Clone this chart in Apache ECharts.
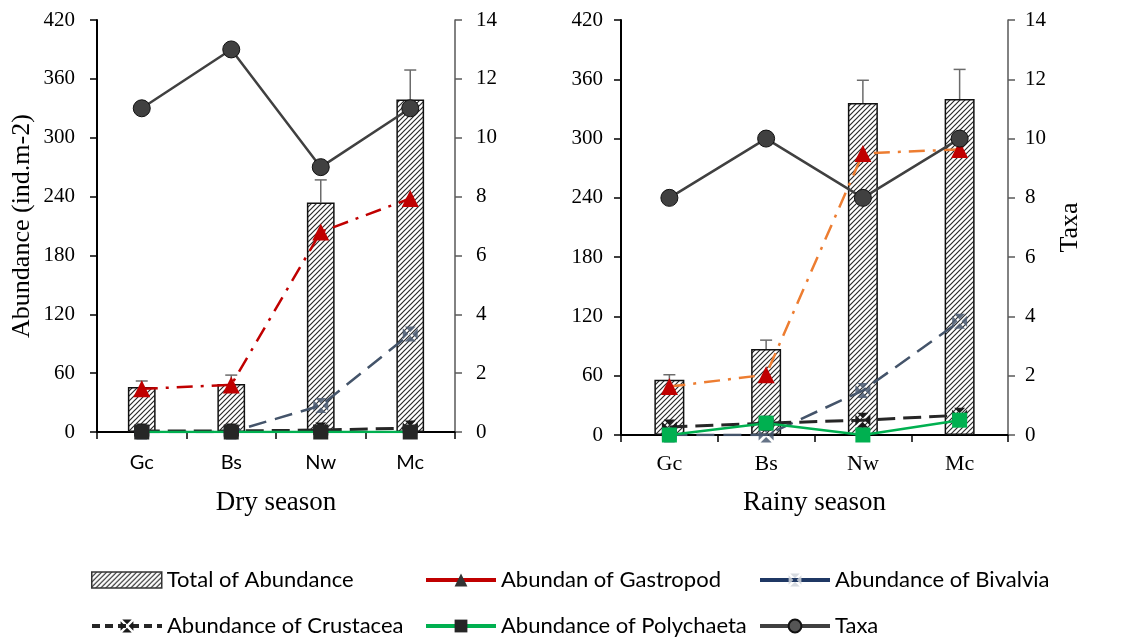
<!DOCTYPE html>
<html>
<head>
<meta charset="utf-8">
<script src="https://cdn.jsdelivr.net/npm/echarts@6/dist/echarts.min.js"></script>
<style>
html,body{margin:0;padding:0;background:#fff;}
#main{width:1137px;height:641px;}
</style>
</head>
<body>
<div id="main"></div>
<script>
var sites = ['Gc', 'Bs', 'Nw', 'Mc'];
var abTicks = [0, 420, 60];
var taxaTicks = [0, 14, 2];

// dry season
var dryTotal = [46, 49, 234, 339];
var dryTotalErr = [52, 58, 257, 369];
var dryGastro = [44, 48, 204, 238];
var dryBival = [0, 0, 27, 100];
var dryCrust = [1, 1, 2, 4];
var dryPoly = [0, 0, 0, 0];
var dryTaxa = [11, 13, 9, 11];

// rainy season
var rainTotal = [56, 87, 336, 340];
var rainTotalErr = [61, 96, 359, 370];
var rainGastro = [49, 61, 285, 289];
var rainBival = [0, 0, 45, 115];
var rainCrust = [8, 12, 15, 20];
var rainPoly = [0, 12, 0, 15];
var rainTaxa = [8, 10, 8, 10];

var serif = '"Liberation Serif", "Times New Roman", serif';
var sans = 'Lato, "Liberation Sans", sans-serif';

// hatch fill
var hc = document.createElement('canvas');
hc.width = 5; hc.height = 5;
var hx = hc.getContext('2d');
hx.fillStyle = '#fff';
hx.fillRect(0, 0, 5, 5);
hx.strokeStyle = '#2a2a2a';
hx.lineWidth = 1.2;
hx.beginPath();
hx.moveTo(-1, 6); hx.lineTo(6, -1);
hx.moveTo(-1, 1); hx.lineTo(1, -1);
hx.moveTo(4, 6); hx.lineTo(6, 4);
hx.stroke();
var hatch = {image: hc, repeat: 'repeat'};

var xSquare = 'path://M1.3,0L8.7,0L5,3.7ZM10,1.3L10,8.7L6.3,5ZM1.3,10L8.7,10L5,6.3ZM0,1.3L0,8.7L3.7,5Z';

function errBars(xi, yi, tops, vals) {
    return {
        type: 'custom',
        xAxisIndex: xi, yAxisIndex: yi,
        silent: true,
        z: 1,
        data: vals.map(function (v, i) { return [i, v, tops[i]]; }),
        renderItem: function (params, api) {
            var p0 = api.coord([api.value(0), api.value(1)]);
            var p1 = api.coord([api.value(0), api.value(2)]);
            var st = {stroke: '#6b6b6b', lineWidth: 1.5};
            return {type: 'group', children: [
                {type: 'line', shape: {x1: p0[0], y1: p0[1], x2: p1[0], y2: p1[1]}, style: st},
                {type: 'line', shape: {x1: p1[0] - 6, y1: p1[1], x2: p1[0] + 6, y2: p1[1]}, style: st}
            ]};
        }
    };
}

function yAxisL(grid, name, margin) {
    return {
        type: 'value', gridIndex: grid, position: 'left',
        min: abTicks[0], max: abTicks[1], interval: abTicks[2],
        name: name, nameLocation: 'middle', nameGap: 62, nameRotate: 90,
        nameTextStyle: {fontFamily: serif, fontSize: 26, color: '#000'},
        axisLine: {show: true, lineStyle: {color: '#000', width: 2}},
        axisTick: {show: true, length: 7, lineStyle: {color: '#000', width: 1.5}},
        axisLabel: {fontFamily: serif, fontSize: 21, color: '#000', margin: margin},
        splitLine: {show: false}
    };
}
function yAxisR(grid, name, margin) {
    return {
        type: 'value', gridIndex: grid, position: 'right',
        min: taxaTicks[0], max: taxaTicks[1], interval: taxaTicks[2],
        name: name, nameLocation: 'middle', nameGap: 49, nameRotate: 90,
        nameTextStyle: {fontFamily: serif, fontSize: 26, color: '#000'},
        axisLine: {show: true, lineStyle: {color: '#595959', width: 1.5}},
        axisTick: {show: true, length: 7, lineStyle: {color: '#595959', width: 1.5}},
        axisLabel: {fontFamily: serif, fontSize: 21, color: '#000', margin: margin},
        splitLine: {show: false}
    };
}
function xAxis(grid, name, font, size, margin, gap) {
    return {
        type: 'category', gridIndex: grid, data: sites,
        name: name, nameLocation: 'middle', nameGap: gap,
        nameTextStyle: {fontFamily: serif, fontSize: 27, color: '#000'},
        axisLine: {lineStyle: {color: '#000', width: 2}},
        axisTick: {show: true, length: 7, lineStyle: {color: '#000', width: 1.5}},
        axisLabel: {fontFamily: font, fontSize: size, color: '#000', margin: margin}
    };
}

function seasonSeries(xi, yl, yr, total, err, gastro, bival, crust, poly, taxa, gastroLine, polyMark) {
    return [
        {name: 'Total of Abundance', type: 'bar', xAxisIndex: xi, yAxisIndex: yl, data: total,
         barWidth: '31%', itemStyle: {color: hatch, borderColor: '#111', borderWidth: 1.5}},
        errBars(xi, yl, err, total),
        {name: 'Abundan of Gastropod', type: 'line', xAxisIndex: xi, yAxisIndex: yl, data: gastro,
         symbol: 'triangle', symbolSize: 17,
         itemStyle: {color: '#C00000'},
         lineStyle: {color: gastroLine, width: 2.5, type: [16, 8, 3, 8]}},
        {name: 'Abundance of Bivalvia', type: 'line', xAxisIndex: xi, yAxisIndex: yl, data: bival,
         symbol: xSquare, symbolSize: 15,
         itemStyle: {color: '#4a5a72', opacity: 0.85},
         lineStyle: {color: '#44546A', width: 2.5, type: [18, 9], opacity: 1}},
        {name: 'Abundance of Crustacea', type: 'line', xAxisIndex: xi, yAxisIndex: yl, data: crust,
         symbol: xSquare, symbolSize: 15,
         itemStyle: {color: '#1a1a1a'},
         lineStyle: {color: '#262626', width: 3, type: [18, 8]}},
        {name: 'Abundance of Polychaeta', type: 'line', xAxisIndex: xi, yAxisIndex: yl, data: poly,
         symbol: 'rect', symbolSize: 15,
         itemStyle: {color: polyMark},
         lineStyle: {color: '#00B050', width: 2.5}},
        {name: 'Taxa', type: 'line', xAxisIndex: xi, yAxisIndex: yr, data: taxa,
         symbol: 'circle', symbolSize: 17,
         itemStyle: {color: '#404040', borderColor: '#111', borderWidth: 1},
         lineStyle: {color: '#404040', width: 2.5}}
    ];
}

function lg(item, left, top) {
    return {
        data: [item], left: left, top: top, orient: 'horizontal',
        itemWidth: 70, itemHeight: 16, itemGap: 0, padding: 0,
        textStyle: {fontFamily: sans, fontSize: 22, color: '#000'}
    };
}

var chart = echarts.init(document.getElementById('main'));
chart.setOption({
    animation: false,
    backgroundColor: '#fff',
    grid: [
        {left: 97, top: 20, width: 358, height: 412},
        {left: 621, top: 20, width: 387, height: 415}
    ],
    xAxis: [
        xAxis(0, 'Dry season', sans, 20, 21, 57),
        xAxis(1, 'Rainy season', serif, 22, 18, 54)
    ],
    yAxis: [
        yAxisL(0, 'Abundance (ind.m-2)', 22),
        yAxisR(0, '', 21),
        yAxisL(1, '', 18),
        yAxisR(1, 'Taxa', 17)
    ],
    legend: [
        lg({name: 'Total of Abundance', icon: 'rect', itemStyle: {borderColor: '#333', borderWidth: 1.5}}, 91, 569),
        lg({name: 'Abundan of Gastropod', itemStyle: {color: '#333'},
            lineStyle: {color: '#C00000', type: 'solid', width: 4}}, 424, 569),
        lg({name: 'Abundance of Bivalvia', itemStyle: {color: '#cfd3da'},
            lineStyle: {color: '#1F3864', type: 'solid', width: 4}}, 758, 569),
        lg({name: 'Abundance of Crustacea', lineStyle: {type: [8, 5], width: 4}}, 90, 615),
        lg({name: 'Abundance of Polychaeta', itemStyle: {color: '#262626'},
            lineStyle: {width: 4}}, 424, 615),
        lg({name: 'Taxa', itemStyle: {color: '#555'}, lineStyle: {width: 4}}, 758, 615)
    ],
    series: [].concat(
        seasonSeries(0, 0, 1, dryTotal, dryTotalErr, dryGastro, dryBival, dryCrust, dryPoly, dryTaxa, '#C00000', '#262626'),
        seasonSeries(1, 2, 3, rainTotal, rainTotalErr, rainGastro, rainBival, rainCrust, rainPoly, rainTaxa, '#ED7D31', '#00B050')
    )
});
</script>
</body>
</html>
